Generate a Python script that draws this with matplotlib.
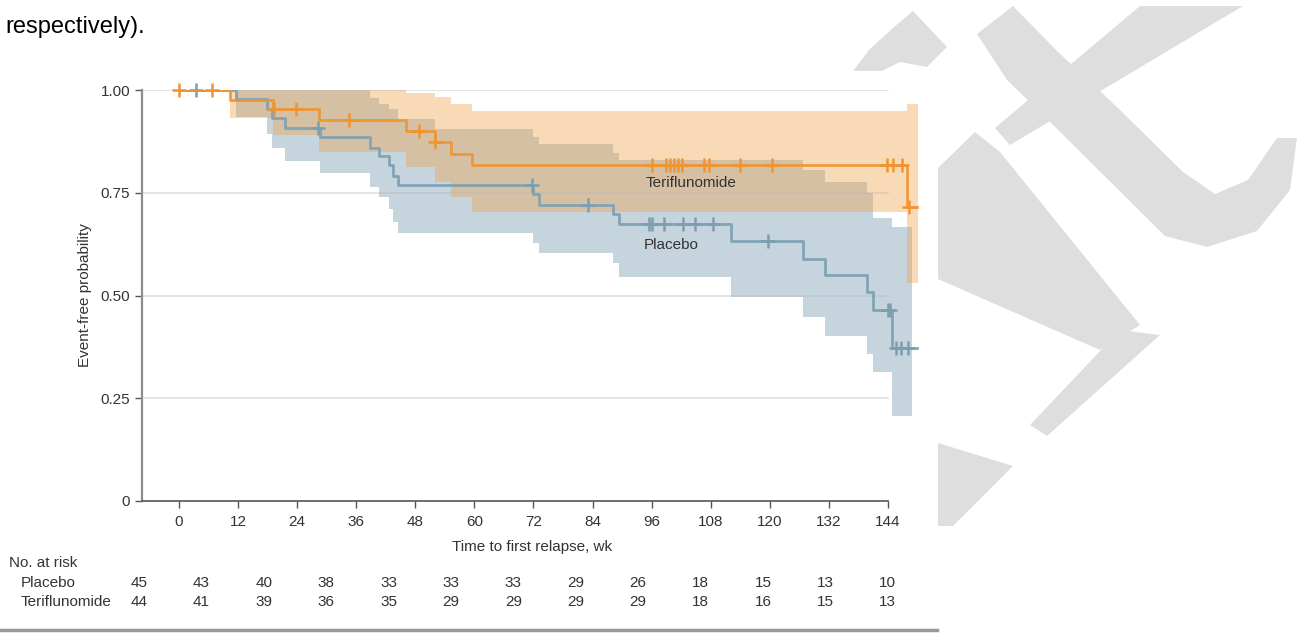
import numpy as np
import matplotlib
matplotlib.use('Agg')
import matplotlib.pyplot as plt
from matplotlib.patches import Polygon, Rectangle

# Kaplan-Meier curves (weeks, event-free probability)
ter_t = [0, 10.4, 19.2, 28.5, 46.2, 51.9, 55.2, 59.6, 147.8, 149.9]
ter_s = [1.0, 0.976, 0.953, 0.927, 0.900, 0.874, 0.844, 0.818, 0.716, 0.716]
ter_cens = [0, 6.8, 19.4, 23.7, 34.5, 48.7, 52.1, 96.0, 99.0, 99.8, 100.6, 101.4, 102.2,
            106.6, 107.7, 114.0, 120.4, 143.7, 145.1, 146.8, 148.3]

pla_t = [0, 11.6, 17.8, 19.0, 21.5, 28.6, 38.7, 40.7, 42.7, 43.5, 44.5, 72.0, 73.2,
         88.2, 89.4, 112.2, 126.8, 131.2, 139.8, 140.9, 144.8, 149.8]
pla_s = [1.0, 0.977, 0.954, 0.931, 0.907, 0.886, 0.860, 0.839, 0.818, 0.791, 0.769, 0.746,
         0.720, 0.698, 0.674, 0.633, 0.590, 0.550, 0.509, 0.465, 0.373, 0.373]
pla_cens = [3.5, 28.2, 71.8, 83.1, 95.4, 96.1, 98.5, 102.3, 104.8, 108.5, 119.7,
            144.0, 144.4, 145.7, 146.7, 148.1]

# 95% confidence bands
ter_ci_t = [10.4, 19.2, 28.5, 46.2, 51.9, 55.2, 59.6, 147.8, 150.0]
ter_hi = [1.0, 1.0, 1.0, 0.993, 0.984, 0.967, 0.950, 0.967, 0.967]
ter_lo = [0.931, 0.890, 0.850, 0.813, 0.777, 0.740, 0.704, 0.530, 0.530]

pla_ci_t = [11.6, 17.8, 19.0, 21.5, 28.6, 38.7, 40.7, 42.7, 43.5, 44.5, 51.9, 72.0, 73.2,
            88.2, 89.4, 112.2, 126.8, 131.2, 139.8, 140.9, 144.8, 148.8]
pla_hi = [1.0, 1.0, 1.0, 1.0, 1.0, 0.980, 0.967, 0.953, 0.953, 0.929, 0.904, 0.886, 0.869,
          0.846, 0.830, 0.830, 0.805, 0.777, 0.749, 0.688, 0.667, 0.667]
pla_lo = [0.935, 0.894, 0.860, 0.828, 0.797, 0.765, 0.739, 0.710, 0.680, 0.652, 0.652, 0.627,
          0.603, 0.578, 0.546, 0.497, 0.448, 0.401, 0.358, 0.315, 0.208, 0.208]

weeks = [0, 12, 24, 36, 48, 60, 72, 84, 96, 108, 120, 132, 144]
risk_pla = [45, 43, 40, 38, 33, 33, 33, 29, 26, 18, 15, 13, 10]
risk_ter = [44, 41, 39, 36, 35, 29, 29, 29, 29, 18, 16, 15, 13]

ORANGE = '#ef9430'
BLUE = '#7b9fb1'
ORANGE_BAND = '#f8dbb6'
BLUE_BAND = '#c6d4dd'
OVERLAP = '#d5c0a4'
TXT = '#333333'
WM = '#dedede'

plt.rcParams['font.family'] = ['Liberation Sans', 'DejaVu Sans']


def step_at(t, s, x):
    """value of a post-step function at x, nan outside its range"""
    t = np.asarray(t)
    s = np.asarray(s, dtype=float)
    idx = np.searchsorted(t, x, side='right') - 1
    return np.where((idx >= 0) & (x < t[-1]), s[np.clip(idx, 0, len(s) - 1)], np.nan)


W, H = 1301, 634
fig = plt.figure(figsize=(W / 100, H / 100), dpi=100)


def px(pts):
    return [(x / W, 1 - y / H) for x, y in pts]


# faint watermark behind the figure panel (pixel outlines)
watermark = [
    [(853, 71), (870, 49), (893, 28), (913, 11), (947, 47), (927, 67), (900, 62), (882, 71)],
    [(977, 34), (1013, 6), (1057, 51), (1120, 110), (1183, 172), (1215, 194), (1248, 180),
     (1277, 138), (1297, 138), (1290, 190), (1257, 231), (1207, 247), (1165, 236),
     (1037, 109), (1007, 80)],
    [(1140, 6), (1243, 6), (1010, 145), (995, 128)],
    [(938, 168), (975, 132), (1000, 152), (1140, 325), (1100, 350), (938, 279)],
    [(1120, 330), (1160, 335), (1047, 436), (1030, 425)],
    [(938, 443), (1013, 466), (953, 526), (938, 526)],
]
for poly in watermark:
    fig.add_artist(Polygon(px(poly), closed=True, facecolor=WM, edgecolor='none', zorder=0))
fig.add_artist(Rectangle((0, 1 - 530 / H), 938 / W, 459 / H, facecolor='white',
                         edgecolor='none', zorder=0.5))

ax = fig.add_axes([142 / W, (H - 501) / H, (922.5 - 142) / W, 411 / H])
ax.set_zorder(2)
ax.patch.set_alpha(0)

# bands, with the overlap of both drawn in its own tint
ax.fill_between(ter_ci_t, ter_lo, ter_hi, step='post', color=ORANGE_BAND, lw=0, zorder=1)
ax.fill_between(pla_ci_t, pla_lo, pla_hi, step='post', color=BLUE_BAND, lw=0, zorder=1.1)
grid_t = np.union1d(ter_ci_t, pla_ci_t)
ov_lo = np.maximum(step_at(ter_ci_t, ter_lo, grid_t), step_at(pla_ci_t, pla_lo, grid_t))
ov_hi = np.minimum(step_at(ter_ci_t, ter_hi, grid_t), step_at(pla_ci_t, pla_hi, grid_t))
for i in range(len(grid_t) - 1):
    lo, hi = ov_lo[i], ov_hi[i]
    if np.isnan(lo) or np.isnan(hi) or hi <= lo:
        continue
    ax.fill_between([grid_t[i], grid_t[i + 1]], [lo, lo], [hi, hi], color=OVERLAP, lw=0,
                    zorder=1.2)

# grid lines up to week 144
for yv in [0.25, 0.5, 0.75, 1.0]:
    ax.plot([-7.5, 144], [yv, yv], color='#b8b8b8', alpha=0.45, lw=1.2, zorder=1.5)

# curves
ax.step(pla_t, pla_s, where='post', color=BLUE, lw=2, alpha=0.9, zorder=3)
ax.step(ter_t, ter_s, where='post', color=ORANGE, lw=2, alpha=0.9, zorder=4)
ax.plot(pla_cens, step_at(pla_t, pla_s, np.array(pla_cens)), ls='none', marker='+',
        ms=10, mew=1.8, color=BLUE, zorder=3, clip_on=False)
ax.plot(ter_cens, step_at(ter_t, ter_s, np.array(ter_cens)), ls='none', marker='+',
        ms=10, mew=1.8, color=ORANGE, zorder=4, clip_on=False)

ax.text(104, 0.774, 'Teriflunomide', ha='center', va='center', fontsize=11, color=TXT, zorder=5)
ax.text(100, 0.623, 'Placebo', ha='center', va='center', fontsize=11, color=TXT, zorder=5)

ax.set_xlim(-7.5, 151)
ax.set_ylim(0, 1.0)
ax.set_xticks(weeks)
ax.set_yticks([0, 0.25, 0.5, 0.75, 1.0])
ax.set_yticklabels(['0', '0.25', '0.50', '0.75', '1.00'])
for sp in ('top', 'right'):
    ax.spines[sp].set_visible(False)
ax.spines['left'].set_color('#8c8c8c')
ax.spines['left'].set_linewidth(1.6)
ax.spines['bottom'].set_color('#555555')
ax.spines['bottom'].set_linewidth(1.2)
ax.spines['bottom'].set_bounds(-7.5, 144)
ax.tick_params(axis='both', labelsize=11, colors='#555555', labelcolor=TXT, length=5, width=1)
ax.tick_params(axis='x', pad=5)
ax.set_xlabel('Time to first relapse, wk', fontsize=11, color=TXT, labelpad=8)
ax.set_ylabel('Event-free probability', fontsize=11, color=TXT, labelpad=6)

# numbers at risk
fig.text(9 / W, 1 - 563 / H, 'No. at risk', fontsize=11, color=TXT, va='center')
fig.text(21 / W, 1 - 583 / H, 'Placebo', fontsize=11, color=TXT, va='center')
fig.text(21 / W, 1 - 602 / H, 'Teriflunomide', fontsize=11, color=TXT, va='center')
for i, (a, b) in enumerate(zip(risk_pla, risk_ter)):
    xp = (139 + i * 62.4) / W
    fig.text(xp, 1 - 583 / H, str(a), fontsize=11, color=TXT, ha='center', va='center')
    fig.text(xp, 1 - 602 / H, str(b), fontsize=11, color=TXT, ha='center', va='center')

fig.add_artist(plt.Line2D([0, 937 / W], [1 - 630 / H, 1 - 630 / H], color='#9a9a9a', lw=2.5))

fig.text(5 / W, 1 - 33 / H, 'respectively).', fontsize=17, family='Liberation Sans',
         color='black', va='baseline')

fig.savefig('out.png', dpi=100)
